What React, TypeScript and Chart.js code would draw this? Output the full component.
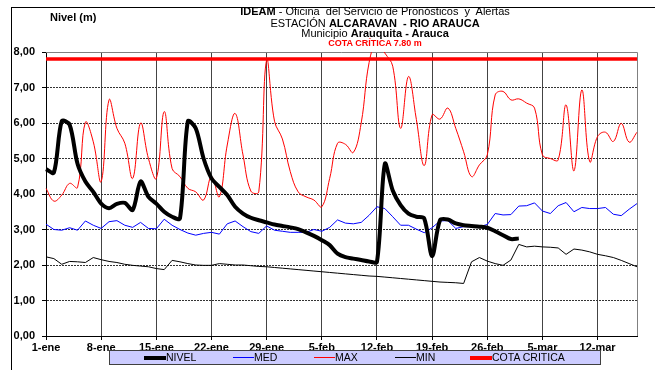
import React, { useEffect, useRef } from "react";
import { Chart, registerables } from "chart.js";

Chart.register(...registerables);

const DAYS = [
  "1-ene","2-ene","3-ene","4-ene","5-ene","6-ene","7-ene","8-ene","9-ene","10-ene",
  "11-ene","12-ene","13-ene","14-ene","15-ene","16-ene","17-ene","18-ene","19-ene","20-ene",
  "21-ene","22-ene","23-ene","24-ene","25-ene","26-ene","27-ene","28-ene","29-ene","30-ene",
  "31-ene","1-feb","2-feb","3-feb","4-feb","5-feb","6-feb","7-feb","8-feb","9-feb",
  "10-feb","11-feb","12-feb","13-feb","14-feb","15-feb","16-feb","17-feb","18-feb","19-feb",
  "20-feb","21-feb","22-feb","23-feb","24-feb","25-feb","26-feb","27-feb","28-feb","1-mar",
  "2-mar","3-mar","4-mar","5-mar","6-mar","7-mar","8-mar","9-mar","10-mar","11-mar",
  "12-mar","13-mar","14-mar","15-mar","16-mar","17-mar",
];

const X_TICKS = ["1-ene","8-ene","15-ene","22-ene","29-ene","5-feb","12-feb","19-feb","26-feb","5-mar","12-mar"];
const Y_TICKS = [0, 1, 2, 3, 4, 5, 6, 7, 8];

const NIVEL = [
  4.7, 4.6, 6.05, 5.95, 4.85, 4.35, 4.06, 3.73, 3.6, 3.72,
  3.75, 3.55, 4.35, 3.92, 3.73, 3.5, 3.36, 3.31, 6.05, 5.85,
  5.0, 4.44, 4.2, 3.97, 3.64, 3.45, 3.33, 3.26, 3.2, 3.14,
  3.1, 3.06, 3.01, 2.92, 2.82, 2.7, 2.56, 2.32, 2.22, 2.18,
  2.14, 2.1, 2.09, 4.85, 4.1, 3.69, 3.45, 3.36, 3.31, 2.25,
  3.26, 3.28, 3.17, 3.12, 3.1, 3.08, 3.05, 2.95, 2.84, 2.73,
  2.75,
];

const MED = [
  3.15, 3.0, 2.98, 3.05, 2.98, 3.24, 3.12, 3.03, 3.22, 3.25,
  3.12, 3.06, 3.2, 3.03, 3.02, 3.29, 3.12, 3.0, 2.9, 2.84,
  2.89, 2.92, 2.87, 3.16, 3.24, 3.08, 2.94, 2.89, 3.1, 2.98,
  2.95, 2.92, 2.92, 2.92, 3.0, 2.95, 3.06, 3.27, 3.18, 3.16,
  3.2, 3.4, 3.64, 3.59, 3.36, 3.12, 3.12, 3.01, 2.91, 3.05,
  3.24, 3.25, 3.03, 3.08, 3.08, 3.08, 3.14, 3.45, 3.41, 3.42,
  3.66, 3.67, 3.75, 3.52, 3.45, 3.67, 3.76, 3.5, 3.62, 3.59,
  3.59, 3.62, 3.43, 3.39, 3.57, 3.73,
];

const MAX = [
  4.16, 3.8, 3.97, 4.3, 4.18, 6.02, 5.47, 4.35, 6.65, 5.85,
  5.43, 4.44, 6.0, 5.0, 4.44, 6.32, 4.72, 4.49, 4.16, 4.06,
  3.83, 4.49, 3.92, 5.38, 6.27, 5.1, 4.08, 4.06, 7.78, 6.05,
  5.55, 4.63, 4.06, 3.92, 3.83, 3.64, 4.44, 5.43, 5.4, 5.17,
  6.0, 7.7, 8.3, 7.97, 7.6, 5.85, 7.31, 6.1, 4.8, 6.23,
  6.11, 6.42, 5.85, 5.19, 4.49, 4.82, 5.1, 6.79, 6.89, 6.65,
  6.68, 6.56, 6.42, 5.1, 5.0, 4.96, 6.51, 4.65, 6.93, 4.91,
  5.62, 5.74, 5.48, 5.99, 5.46, 5.74,
];

const MIN = [
  2.23, 2.18, 2.02, 2.1, 2.09, 2.07, 2.21, 2.15, 2.1, 2.07,
  2.02, 1.99, 1.97, 1.95, 1.9, 1.87, 2.13, 2.09, 2.04, 2.0,
  1.99, 1.99, 2.04, 2.02, 2.0, 2.0, 1.98, 1.96, 1.95, 1.93,
  1.91, 1.89, 1.87, 1.85, 1.83, 1.81, 1.79, 1.77, 1.75, 1.73,
  1.71, 1.69, 1.68, 1.66, 1.64, 1.62, 1.6, 1.58, 1.56, 1.54,
  1.52, 1.51, 1.5, 1.48, 2.09, 2.21, 2.11, 2.04, 1.99, 2.14,
  2.58, 2.51, 2.53, 2.51, 2.5, 2.48, 2.3, 2.45, 2.42, 2.37,
  2.3, 2.26, 2.21, 2.13, 2.04, 1.95,
];

const COTA = 7.8;

const FONT = "'Liberation Sans', Arial, Helvetica, sans-serif";

const framePlugin = {
  id: "frame",
  beforeDatasetsDraw(chart: any) {
    const { ctx, chartArea } = chart;
    ctx.save();
    ctx.strokeStyle = "#808080";
    ctx.lineWidth = 1;
    ctx.beginPath();
    ctx.moveTo(chartArea.left, Math.round(chartArea.top) + 0.5);
    ctx.lineTo(Math.round(chartArea.right) + 0.5, Math.round(chartArea.top) + 0.5);
    ctx.lineTo(Math.round(chartArea.right) + 0.5, chartArea.bottom);
    ctx.stroke();
    ctx.restore();
  },
};

function ChartCanvas() {
  const ref = useRef<HTMLCanvasElement | null>(null);
  useEffect(() => {
    if (!ref.current) return;
    const chart = new Chart(ref.current, {
      type: "line",
      data: {
        labels: DAYS,
        datasets: [
          {
            label: "NIVEL",
            data: NIVEL,
            borderColor: "#000000",
            borderWidth: 4,
            pointRadius: 0,
            tension: 0.3,
            order: 1,
          },
          {
            label: "MED",
            data: MED,
            borderColor: "#0000FF",
            borderWidth: 1,
            pointRadius: 0,
            tension: 0,
            order: 3,
          },
          {
            label: "MAX",
            data: MAX,
            borderColor: "#FF0000",
            borderWidth: 1,
            pointRadius: 0,
            tension: 0.4,
            order: 2,
          },
          {
            label: "MIN",
            data: MIN,
            borderColor: "#000000",
            borderWidth: 1,
            pointRadius: 0,
            tension: 0,
            order: 4,
          },
          {
            label: "COTA CRITICA",
            data: [
              { x: DAYS[0], y: COTA },
              { x: DAYS[DAYS.length - 1], y: COTA },
            ],
            borderColor: "#FF0000",
            borderWidth: 3.5,
            pointRadius: 0,
            tension: 0,
            order: 0,
          },
        ] as any,
      },
      plugins: [framePlugin],
      options: {
        animation: false,
        responsive: true,
        maintainAspectRatio: false,
        layout: { padding: { top: 52, right: 18, left: 0, bottom: 0 } },
        plugins: {
          legend: { display: false },
          tooltip: { enabled: false },
          title: { display: false },
        },
        scales: {
          x: {
            type: "category",
            offset: false,
            grid: {
              color: (c: any) => (c.index % 7 === 0 ? "#444444" : "rgba(0,0,0,0)"),
              tickColor: (c: any) => (c.index % 7 === 0 ? "#000000" : "rgba(0,0,0,0)"),
              lineWidth: 1,
              tickLength: 4,
            },
            border: { color: "#000000", width: 1 },
            ticks: {
              autoSkip: false,
              maxRotation: 0,
              minRotation: 0,
              padding: 1,
              color: "#000000",
              font: { family: FONT, size: 11, weight: "bold" },
              callback: (_v: any, i: number) => (X_TICKS.includes(DAYS[i]) ? DAYS[i] : ""),
            },
            afterFit: (s: any) => {
              s.height = 34;
            },
          },
          y: {
            min: Y_TICKS[0],
            max: Y_TICKS[Y_TICKS.length - 1],
            afterBuildTicks: (s: any) => {
              s.ticks = Y_TICKS.map((v) => ({ value: v }));
            },
            grid: {
              color: (c: any) => (c.tick && c.tick.value === 8 ? "rgba(0,0,0,0)" : "#333333"),
              tickColor: "#000000",
              lineWidth: 1,
              tickLength: 4,
            },
            border: { color: "#000000", width: 1, dash: [2, 1] },
            ticks: {
              padding: 7,
              color: "#000000",
              font: { family: FONT, size: 11, weight: "bold" },
              callback: (v: any) => Number(v).toFixed(2).replace(".", ","),
            },
            afterFit: (s: any) => {
              s.width = 46;
            },
          },
        },
      } as any,
    });
    return () => chart.destroy();
  }, []);
  return <canvas ref={ref} />;
}

const abs = (o: React.CSSProperties): React.CSSProperties => ({ position: "absolute", ...o });

export default function App() {
  const line = (l: number, w: number, h: number, color: string): React.CSSProperties =>
    abs({ left: l, top: 6.5 - h / 2, width: w, height: h, background: color });
  const txt = (l: number): React.CSSProperties =>
    abs({ left: l, top: 0, lineHeight: "13px", fontSize: 10.5, whiteSpace: "nowrap" });
  return (
    <div
      style={{
        position: "fixed",
        left: 0,
        top: 0,
        width: 655,
        height: 370,
        overflow: "hidden",
        background: "#ffffff",
        fontFamily: FONT,
        color: "#000",
      }}
    >
      <div style={abs({ left: 0, top: 0, width: 655, height: 370 })}>
        <ChartCanvas />
      </div>
      <div style={abs({ left: 11, top: 7, width: 700, height: 400, borderLeft: "1px solid #000", borderTop: "1px solid #000" })} />
      <div style={abs({ left: 50, top: 11, fontSize: 11, fontWeight: "bold", lineHeight: "12px", whiteSpace: "nowrap" })}>
        Nivel (m)
      </div>
      <div style={abs({ left: 0, top: 6, width: 750, textAlign: "center", fontSize: 11, lineHeight: "11px", whiteSpace: "pre" })}>
        <b>IDEAM</b> - Oficina  del Servicio de Pronósticos  y  Alertas
      </div>
      <div style={abs({ left: 0, top: 17.5, width: 750, textAlign: "center", fontSize: 11, lineHeight: "11px", whiteSpace: "pre" })}>
        ESTACIÓN <b>ALCARAVAN  - RIO ARAUCA</b>
      </div>
      <div style={abs({ left: 0, top: 28, width: 750, textAlign: "center", fontSize: 11, lineHeight: "11px", whiteSpace: "pre" })}>
        Municipio <b>Arauquita - Arauca</b>
      </div>
      <div style={abs({ left: 0, top: 38, width: 750, textAlign: "center", fontSize: 9, fontWeight: "bold", color: "#FF0000", lineHeight: "10px", whiteSpace: "pre" })}>
        COTA CRÍTICA 7.80 m
      </div>
      <div
        style={abs({
          left: 109,
          top: 350,
          width: 490,
          height: 13,
          background: "#CCCCFF",
          border: "1px solid #404040",
        })}
      >
        <div style={line(144 - 110, 22, 4, "#000")} />
        <div style={txt(166 - 110)}>NIVEL</div>
        <div style={line(233 - 110, 21, 1, "#0000FF")} />
        <div style={txt(254 - 110)}>MED</div>
        <div style={line(314 - 110, 21, 1, "#FF0000")} />
        <div style={txt(335 - 110)}>MAX</div>
        <div style={line(395 - 110, 21, 1, "#000")} />
        <div style={txt(416 - 110)}>MIN</div>
        <div style={line(470 - 110, 22, 4, "#FF0000")} />
        <div style={txt(492 - 110)}>COTA CRITICA</div>
      </div>
    </div>
  );
}
